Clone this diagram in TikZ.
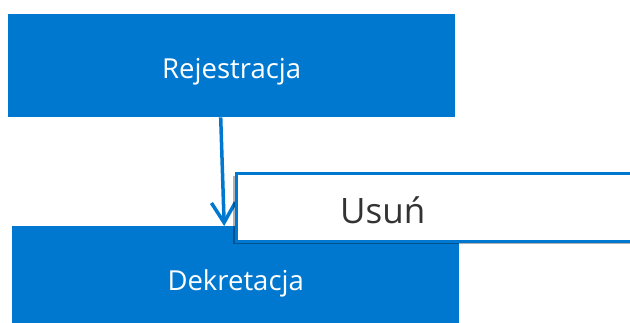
\documentclass[tikz,border=0pt]{standalone}
\usepackage{fontspec}
\setmainfont{Open Sans}
\usetikzlibrary{positioning,arrows.meta,shadows}
\definecolor{tileblue}{HTML}{0078CF}

\begin{document}
\begin{tikzpicture}[x=1pt,y=-1pt,
  tile/.style={rectangle,fill=tileblue,text=white,minimum width=447pt,
    minimum height=103pt,inner sep=0pt,text height=25pt,text depth=0pt,
    font=\fontsize{27.5}{33}\selectfont},
  menubox/.style={rectangle,draw=tileblue,line width=2.5pt,fill=white,
    minimum width=410pt,minimum height=68pt,inner sep=0pt,
    drop shadow={shadow xshift=-3pt,shadow yshift=-3pt,opacity=0.3,fill=black}},
  flow/.style={draw=tileblue,line width=3.5pt,-{Straight Barb[length=20pt,width=24pt]}}]
  %%%%% frame %%%%%
  \clip (0,0) rectangle (630,322);
  \fill[white] (0,0) rectangle (630,322);

  %%%%% tiles %%%%%
  \node[tile,anchor=north west] (rej) at (8,14) {Rejestracja};
  \node[tile,anchor=north west] (dek) at (12,226) {Dekretacja};

  \draw[flow] ([xshift=-11pt]rej.south) -- ([xshift=-11.5pt]dek.north);

  %%%%% context menu %%%%%
  \node[menubox,anchor=north west] (usun) at (235,172) {};
  \node[anchor=base west,inner sep=0pt,text=black!80,font=\fontsize{35}{42}\selectfont]
    (usuntxt) at ([xshift=105pt,yshift=-16pt]usun.west) {Usuń};
\end{tikzpicture}
\end{document}
